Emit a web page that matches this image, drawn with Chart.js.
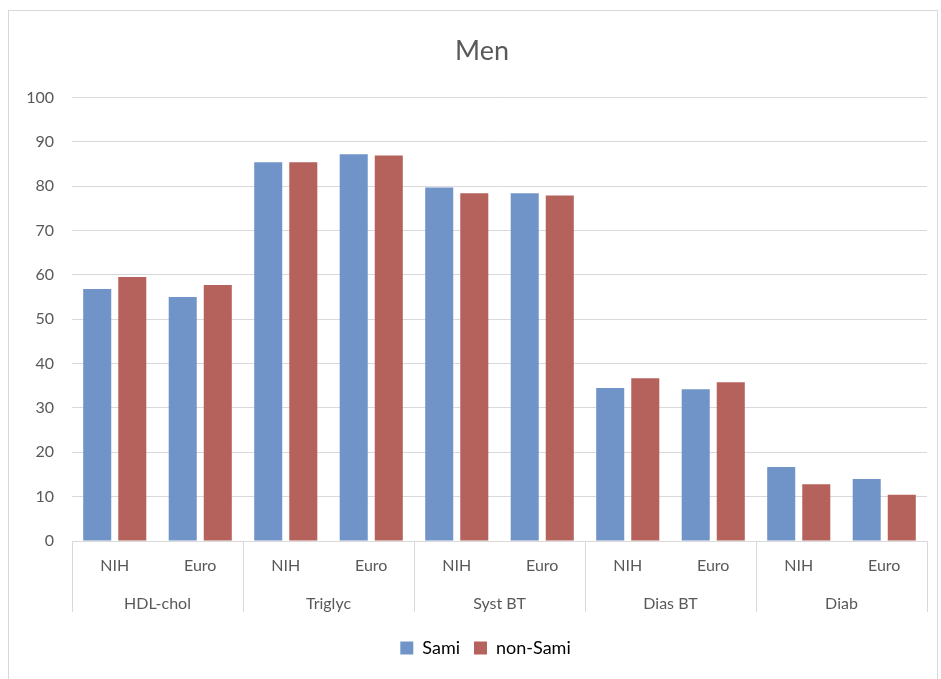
<!DOCTYPE html>
<html>
<head>
<meta charset="utf-8">
<script src="https://cdn.jsdelivr.net/npm/chart.js@4.4.1/dist/chart.umd.min.js"></script>
<style>
  html, body { margin: 0; padding: 0; background: #ffffff; }
  #wrap { position: relative; width: 941px; height: 679px; overflow: hidden; }
  #frame { position: absolute; left: 8px; top: 10px; width: 930px; height: 700px; border: 1px solid #d9d9d9; box-sizing: border-box; }
  #c { position: absolute; left: 0; top: 0; }
</style>
</head>
<body>
<div id="wrap">
  <div id="frame"></div>
  <canvas id="c" width="941" height="679"></canvas>
</div>
<script>
// Criteria (outer groups) and reference standard (inner categories)
const groups = ["HDL-chol", "Triglyc", "Syst BT", "Dias BT", "Diab"];
const standards = ["NIH", "Euro"];
const categories = groups.flatMap(() => standards);

// Prevalence (%) among men
const sami    = [56.8, 55.0, 85.4, 87.2, 79.7, 78.4, 34.5, 34.2, 16.7, 14.0];
const nonSami = [59.5, 57.7, 85.4, 86.9, 78.4, 77.9, 36.7, 35.8, 12.8, 10.4];

const yTicksMax = 100;
const yTickStep = 10;

const textColor = "#595959";
const lineColor = "#d9d9d9";
const fontFamily = "Lato, 'Open Sans', 'Liberation Sans', sans-serif";

// Height of the two label rows under the plot, spanned by the group separators
const labelBandHeight = 71;

// Vertical separators between the outer groups, running under both label rows
const groupSeparators = {
  id: "groupSeparators",
  afterDraw(chart) {
    const x = chart.scales.x;
    const ctx = chart.ctx;
    const n = categories.length;
    const half = (x.getPixelForValue(1) - x.getPixelForValue(0)) / 2;
    const top = chart.chartArea.bottom;
    const bottom = top + labelBandHeight;
    ctx.save();
    ctx.strokeStyle = lineColor;
    ctx.lineWidth = 1;
    for (let i = 0; i <= n; i += standards.length) {
      const px = Math.round(i < n ? x.getPixelForValue(i) - half : x.getPixelForValue(n - 1) + half) + 0.5;
      ctx.beginPath();
      ctx.moveTo(px, top);
      ctx.lineTo(px, bottom);
      ctx.stroke();
    }
    ctx.restore();
  }
};

// Nudge the title and legend a little to the right of the canvas centre
const centreNudge = {
  id: "centreNudge",
  afterLayout(chart) {
    if (chart.titleBlock) chart.titleBlock.left += 27;
    if (chart.legend) chart.legend.left += 34;
  }
};

new Chart(document.getElementById("c"), {
  type: "bar",
  data: {
    labels: categories,
    datasets: [
      { label: "Sami", data: sami, backgroundColor: "#7194c8", xAxisID: "x" },
      { label: "non-Sami", data: nonSami, backgroundColor: "#b4625b", xAxisID: "x" }
    ]
  },
  options: {
    responsive: false,
    animation: false,
    devicePixelRatio: 1,
    datasets: { bar: { categoryPercentage: 0.82, barPercentage: 0.8 } },
    layout: { padding: { left: 10, right: 14, top: 31, bottom: 12 } },
    plugins: {
      title: {
        display: true,
        text: "Men",
        color: textColor,
        font: { family: fontFamily, size: 27, weight: "normal" },
        padding: { top: 4, bottom: 30 }
      },
      legend: {
        position: "bottom",
        labels: {
          color: "#000000",
          font: { family: fontFamily, size: 18 },
          boxWidth: 13,
          boxHeight: 13,
          padding: 14
        }
      },
      tooltip: { enabled: false }
    },
    scales: {
      x: {
        type: "category",
        position: "bottom",
        offset: true,
        grid: { display: false },
        border: { display: true, color: lineColor },
        ticks: { color: textColor, font: { family: fontFamily, size: 16 }, padding: 7, maxRotation: 0 },
        afterFit(scale) { scale.height = 45; }
      },
      x2: {
        type: "category",
        position: "bottom",
        labels: groups,
        offset: true,
        grid: { display: false },
        border: { display: false },
        ticks: { color: textColor, font: { family: fontFamily, size: 16 }, padding: 0, maxRotation: 0 },
        afterFit(scale) { scale.height = 39; }
      },
      y: {
        min: 0,
        max: yTicksMax,
        ticks: { stepSize: yTickStep, color: textColor, font: { family: fontFamily, size: 16 }, padding: 18 },
        grid: { color: lineColor, drawTicks: false },
        border: { display: false },
        afterFit(scale) { scale.width = 62; }
      }
    }
  },
  plugins: [groupSeparators, centreNudge]
});
</script>
</body>
</html>
